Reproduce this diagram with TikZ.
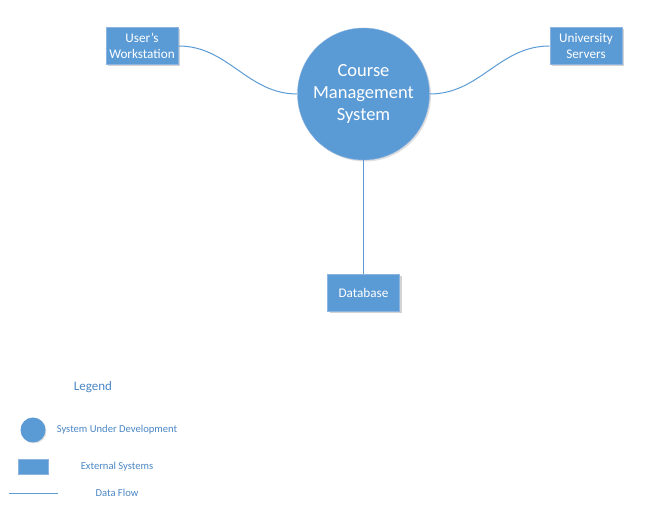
\documentclass[tikz,border=0pt]{standalone}
\usepackage{fontspec}
\setmainfont{Carlito}
\usetikzlibrary{shadows}
\definecolor{cmsblue}{HTML}{5B9BD5}
\definecolor{cmsedge}{HTML}{8DB3E0}
\definecolor{cmstext}{HTML}{4A86C5}
\begin{document}
\begin{tikzpicture}[x=1pt,y=-1pt,
  sysnode/.style={circle,fill=cmsblue,draw=cmsedge,minimum size=132pt,inner sep=0pt,
    text=white,align=center,font=\fontsize{18.5}{22}\selectfont,
    drop shadow={shadow xshift=1.5pt,shadow yshift=-1.5pt,opacity=0.25}},
  extnode/.style={rectangle,fill=cmsblue,draw=cmsedge,line width=1pt,minimum width=72pt,
    minimum height=37pt,inner sep=0pt,text=white,align=center,
    font=\fontsize{13.2}{15.5}\selectfont,
    drop shadow={shadow xshift=2pt,shadow yshift=-2pt,opacity=0.35}},
  flow/.style={draw=cmsblue,line width=1pt},
  legtext/.style={text=cmstext,font=\fontsize{10.6}{12}\selectfont}]
  \useasboundingbox (0,0) rectangle (657,510);
  \node[sysnode] (cms) at (363.5,94) {Course\\Management\\System};
  \node[extnode] (ws) at (142,46) {User’s\\Workstation};
  \node[extnode] (us) at (586,46) {University\\Servers};
  \node[extnode] (db) at (363.5,293) {Database};
  \draw[flow] (ws.east) to[out=0,in=180] (cms.west);
  \draw[flow] (cms.east) to[out=0,in=180] (us.west);
  \draw[flow] (cms.south) -- (db.north);
  % legend
  \node[legtext,font=\fontsize{13}{15}\selectfont] (leg) at (93,387) {Legend};
  \node[circle,fill=cmsblue,minimum size=25pt,inner sep=0pt,
    drop shadow={shadow xshift=1pt,shadow yshift=-1pt,opacity=0.25}] (legsys) at (33,430) {};
  \node[legtext] (legsyst) at (117,430) {System Under Development};
  \node[rectangle,fill=cmsblue,draw=cmsedge,minimum width=30pt,minimum height=15pt,inner sep=0pt] (legext) at (33,467) {};
  \node[legtext] (legextt) at (117,467) {External Systems};
  \coordinate (legfa) at (9,494);
  \coordinate (legfb) at (58,494);
  \draw[flow] (legfa) -- (legfb);
  \node[legtext] (legflowt) at (117,493) {Data Flow};
\end{tikzpicture}
\end{document}
